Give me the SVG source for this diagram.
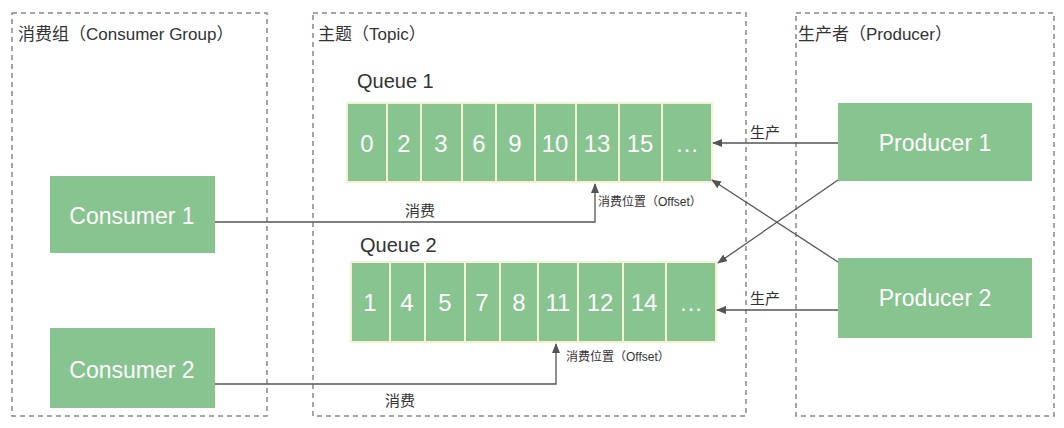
<svg xmlns="http://www.w3.org/2000/svg" width="1064" height="428" viewBox="0 0 1064 428">
<defs>
<marker id="ah" markerWidth="10" markerHeight="8" refX="9" refY="4" orient="auto" markerUnits="userSpaceOnUse"><path d="M0,0 L10,4 L0,8 z" fill="#555"/></marker>
<style>
.grp{fill:none;stroke:#888;stroke-width:1.5;stroke-dasharray:5,4}
.box{fill:#88c48f}
.cell{fill:#88c48f;stroke:#f4f1d4;stroke-width:2}
.w{fill:#fff;font-family:"Liberation Sans","Noto Sans CJK SC",sans-serif;font-weight:300}
.t{fill:#333;font-family:"Liberation Sans","Noto Sans CJK SC",sans-serif}
.c{fill:none;stroke:#555;stroke-width:1.3}
</style>
</defs>
<rect width="1064" height="428" fill="#fff"/>
<g id="groups">
<rect class="grp" x="12" y="13" width="255" height="403"/>
<rect class="grp" x="313" y="13" width="433" height="403"/>
<rect class="grp" x="796" y="13" width="258" height="403"/>
<text class="t" x="18" y="40" font-size="17">消费组（Consumer Group）</text>
<text class="t" x="318" y="40" font-size="17">主题（Topic）</text>
<text class="t" x="798" y="40" font-size="17">生产者（Producer）</text>
</g>
<g id="queue1">
<text class="t" x="357" y="88" font-size="20">Queue 1</text>
<rect class="cell" x="347" y="103" width="40" height="79"/>
<rect class="cell" x="387" y="103" width="34" height="79"/>
<rect class="cell" x="421" y="103" width="41" height="79"/>
<rect class="cell" x="462" y="103" width="34" height="79"/>
<rect class="cell" x="496" y="103" width="39" height="79"/>
<rect class="cell" x="535" y="103" width="41" height="79"/>
<rect class="cell" x="576" y="103" width="43" height="79"/>
<rect class="cell" x="619" y="103" width="43" height="79"/>
<rect class="cell" x="662" y="103" width="50" height="79"/>
<g class="w" font-size="24" text-anchor="middle">
<text x="367" y="152">0</text><text x="404" y="152">2</text><text x="441" y="152">3</text><text x="479" y="152">6</text><text x="515" y="152">9</text><text x="555" y="152">10</text><text x="597" y="152">13</text><text x="640" y="152">15</text><text x="687" y="152">…</text>
</g>
</g>
<g id="queue2">
<text class="t" x="360" y="252" font-size="20">Queue 2</text>
<rect class="cell" x="351" y="262" width="39" height="80"/>
<rect class="cell" x="390" y="262" width="35" height="80"/>
<rect class="cell" x="425" y="262" width="40" height="80"/>
<rect class="cell" x="465" y="262" width="35" height="80"/>
<rect class="cell" x="500" y="262" width="38" height="80"/>
<rect class="cell" x="538" y="262" width="40" height="80"/>
<rect class="cell" x="578" y="262" width="45" height="80"/>
<rect class="cell" x="623" y="262" width="43" height="80"/>
<rect class="cell" x="666" y="262" width="50" height="80"/>
<g class="w" font-size="24" text-anchor="middle">
<text x="370" y="311">1</text><text x="407" y="311">4</text><text x="445" y="311">5</text><text x="482" y="311">7</text><text x="519" y="311">8</text><text x="558" y="311">11</text><text x="600" y="311">12</text><text x="644" y="311">14</text><text x="691" y="311">…</text>
</g>
</g>
<g id="consumer1"><rect class="box" x="50" y="176" width="165" height="77"/><text class="w" x="132" y="224" font-size="23" text-anchor="middle">Consumer 1</text></g>
<g id="consumer2"><rect class="box" x="50" y="328" width="165" height="80"/><text class="w" x="132" y="378" font-size="23" text-anchor="middle">Consumer 2</text></g>
<g id="producer1"><rect class="box" x="838" y="103" width="194" height="78"/><text class="w" x="935" y="151" font-size="23" text-anchor="middle">Producer 1</text></g>
<g id="producer2"><rect class="box" x="838" y="258" width="194" height="80"/><text class="w" x="935" y="306" font-size="23" text-anchor="middle">Producer 2</text></g>
<g id="connectors">
<path class="c" d="M215,222 H595 V184" marker-end="url(#ah)"/>
<path class="c" d="M215,384 H556 V344" marker-end="url(#ah)"/>
<path class="c" d="M838,143 H713" marker-end="url(#ah)"/>
<path class="c" d="M838,310 H717" marker-end="url(#ah)"/>
<path class="c" d="M838,180 L718,263" marker-end="url(#ah)"/>
<path class="c" d="M838,262 L712,180" marker-end="url(#ah)"/>
<text class="t" x="405" y="216" font-size="15">消费</text>
<text class="t" x="385" y="406" font-size="15">消费</text>
<text class="t" x="598" y="206" font-size="12">消费位置（Offset）</text>
<text class="t" x="566" y="361" font-size="12">消费位置（Offset）</text>
<text class="t" x="750" y="138" font-size="15">生产</text>
<text class="t" x="750" y="304" font-size="15">生产</text>
</g>
</svg>
